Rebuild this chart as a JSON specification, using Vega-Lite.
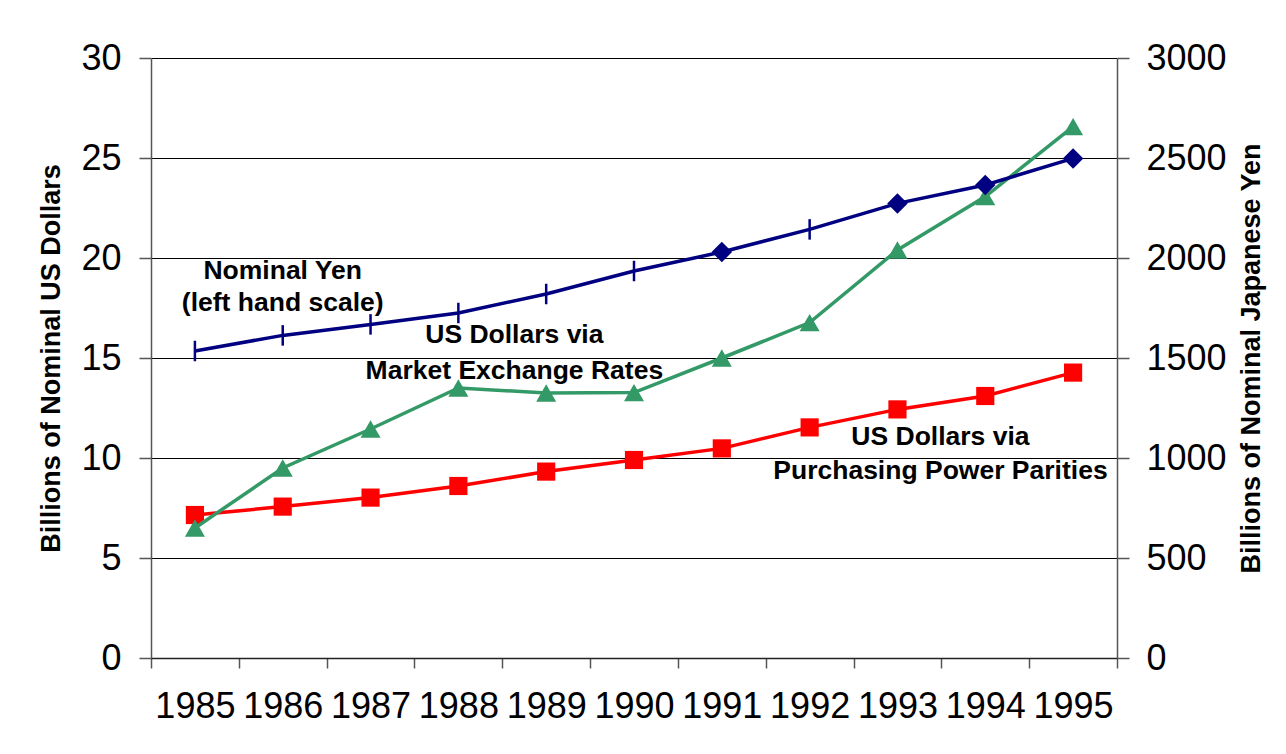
{
  "$schema": "https://vega.github.io/schema/vega-lite/v6.json",
  "width": 966,
  "height": 600,
  "autosize": {"type": "none"},
  "padding": {"left": 151, "top": 58, "right": 169, "bottom": 96},
  "background": "white",
  "config": {
    "view": {"stroke": null},
    "font": "Liberation Sans",
    "axis": {
      "labelFont": "Liberation Sans",
      "labelFontSize": 36,
      "labelColor": "#000",
      "titleFont": "Liberation Sans",
      "titleFontSize": 27,
      "titleFontWeight": "bold",
      "titleColor": "#000",
      "domainColor": "#555",
      "tickColor": "#555",
      "domainWidth": 1.5,
      "tickWidth": 1.5
    }
  },
  "datasets": {
    "series": [
      {"year": 1985, "series": "yen", "value": 15.35},
      {"year": 1986, "series": "yen", "value": 16.13},
      {"year": 1987, "series": "yen", "value": 16.68},
      {"year": 1988, "series": "yen", "value": 17.25},
      {"year": 1989, "series": "yen", "value": 18.2},
      {"year": 1990, "series": "yen", "value": 19.35},
      {"year": 1991, "series": "yen", "value": 20.3},
      {"year": 1992, "series": "yen", "value": 21.43},
      {"year": 1993, "series": "yen", "value": 22.73},
      {"year": 1994, "series": "yen", "value": 23.65},
      {"year": 1995, "series": "yen", "value": 24.98},
      {"year": 1985, "series": "mer", "value": 6.5},
      {"year": 1986, "series": "mer", "value": 9.5},
      {"year": 1987, "series": "mer", "value": 11.45},
      {"year": 1988, "series": "mer", "value": 13.5},
      {"year": 1989, "series": "mer", "value": 13.25},
      {"year": 1990, "series": "mer", "value": 13.27},
      {"year": 1991, "series": "mer", "value": 15.0},
      {"year": 1992, "series": "mer", "value": 16.77},
      {"year": 1993, "series": "mer", "value": 20.4},
      {"year": 1994, "series": "mer", "value": 23.07},
      {"year": 1995, "series": "mer", "value": 26.57},
      {"year": 1985, "series": "ppp", "value": 7.15},
      {"year": 1986, "series": "ppp", "value": 7.57},
      {"year": 1987, "series": "ppp", "value": 8.02},
      {"year": 1988, "series": "ppp", "value": 8.6},
      {"year": 1989, "series": "ppp", "value": 9.32},
      {"year": 1990, "series": "ppp", "value": 9.9},
      {"year": 1991, "series": "ppp", "value": 10.48},
      {"year": 1992, "series": "ppp", "value": 11.53},
      {"year": 1993, "series": "ppp", "value": 12.43},
      {"year": 1994, "series": "ppp", "value": 13.1},
      {"year": 1995, "series": "ppp", "value": 14.27}
    ]
  },
  "layer": [
    {
      "encoding": {
        "x": {
          "field": "year",
          "type": "ordinal",
          "scale": {"type": "band", "paddingInner": 0, "paddingOuter": 0},
          "axis": {
            "title": null,
            "labelAngle": 0,
            "tickBand": "extent",
            "tickSize": 10,
            "labelPadding": 21,
            "grid": false,
            "domainColor": "#222"
          }
        },
        "y": {
          "field": "value",
          "type": "quantitative",
          "scale": {"domain": [0, 30], "nice": false, "zero": true},
          "axis": {
            "orient": "left",
            "title": "Billions of Nominal US Dollars",
            "values": [0, 5, 10, 15, 20, 25, 30],
            "tickSize": 12,
            "labelPadding": 18,
            "titlePadding": 15,
            "grid": true,
            "gridColor": "#000",
            "gridWidth": 1.2
          }
        }
      },
      "layer": [
        {
          "data": {"name": "series"},
          "transform": [{"filter": "datum.series === 'ppp'"}],
          "mark": {"type": "line", "color": "#FF0000", "strokeWidth": 3.5}
        },
        {
          "data": {"name": "series"},
          "transform": [{"filter": "datum.series === 'ppp'"}],
          "mark": {"type": "point", "shape": "square", "filled": true, "size": 330, "color": "#FF0000", "opacity": 1}
        },
        {
          "data": {"name": "series"},
          "transform": [{"filter": "datum.series === 'mer'"}],
          "mark": {"type": "line", "color": "#339966", "strokeWidth": 3.5}
        },
        {
          "data": {"name": "series"},
          "transform": [{"filter": "datum.series === 'mer'"}],
          "mark": {"type": "point", "shape": "triangle-up", "filled": true, "size": 400, "color": "#339966", "opacity": 1}
        },
        {
          "data": {"name": "series"},
          "transform": [{"filter": "datum.series === 'yen'"}],
          "mark": {"type": "line", "color": "#000080", "strokeWidth": 3.5}
        },
        {
          "data": {"name": "series"},
          "transform": [{"filter": "datum.series === 'yen' && indexof([1991, 1993, 1994, 1995], datum.year) >= 0"}],
          "mark": {"type": "point", "shape": "diamond", "filled": true, "size": 420, "color": "#000080", "opacity": 1}
        },
        {
          "data": {"name": "series"},
          "transform": [{"filter": "datum.series === 'yen' && indexof([1991, 1993, 1994, 1995], datum.year) < 0"}],
          "mark": {"type": "point", "shape": "M0,-1L0,1", "filled": false, "stroke": "#000080", "strokeWidth": 2.5, "size": 420, "opacity": 1}
        },
        {
          "data": {"values": [{"year": 1986, "value": 19.35, "label": "Nominal Yen\n(left hand scale)"}]},
          "mark": {"type": "text", "lineBreak": "\n", "lineHeight": 32, "font": "Liberation Sans", "fontSize": 26.5, "fontWeight": "bold", "color": "#000", "align": "center", "baseline": "middle"},
          "encoding": {"text": {"field": "label"}}
        },
        {
          "data": {"values": [{"year": 1988, "value": 16.15, "label": "US Dollars via\nMarket Exchange Rates"}]},
          "mark": {"type": "text", "lineBreak": "\n", "lineHeight": 36, "dx": 56, "font": "Liberation Sans", "fontSize": 26.5, "fontWeight": "bold", "color": "#000", "align": "center", "baseline": "middle"},
          "encoding": {"text": {"field": "label"}}
        },
        {
          "data": {"values": [{"year": 1993, "value": 11.05, "label": "US Dollars via\nPurchasing Power Parities"}]},
          "mark": {"type": "text", "lineBreak": "\n", "lineHeight": 34, "dx": 43, "font": "Liberation Sans", "fontSize": 26.5, "fontWeight": "bold", "color": "#000", "align": "center", "baseline": "middle"},
          "encoding": {"text": {"field": "label"}}
        }
      ]
    },
    {
      "data": {"values": [{"yen": 0}]},
      "mark": {"type": "point", "opacity": 0},
      "encoding": {
        "y": {
          "field": "yen",
          "type": "quantitative",
          "scale": {"domain": [0, 3000], "nice": false},
          "axis": {
            "orient": "right",
            "title": "Billions of Nominal Japanese Yen",
            "values": [0, 500, 1000, 1500, 2000, 2500, 3000],
            "format": "d",
            "tickSize": 12,
            "labelPadding": 17,
            "titlePadding": 12,
            "titleAngle": 270,
            "titleBaseline": "top",
            "grid": false
          }
        }
      }
    }
  ],
  "resolve": {"scale": {"y": "independent"}}
}
